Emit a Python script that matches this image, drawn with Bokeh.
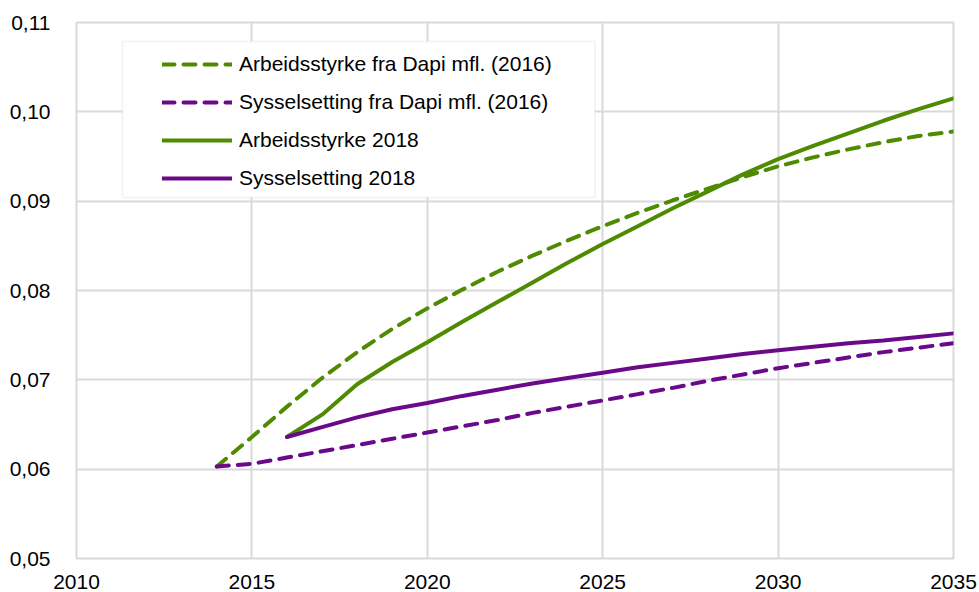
from bokeh.plotting import figure
from bokeh.models import Range1d, FixedTicker, Legend, LegendItem, BoxAnnotation
from bokeh.embed import file_html
from bokeh.resources import INLINE

years_dapi = list(range(2014, 2036))
arb_dapi = [0.0603, 0.0636, 0.0670, 0.0702, 0.0731, 0.0757, 0.0780, 0.0801, 0.0821, 0.0839,
            0.0856, 0.0872, 0.0887, 0.0901, 0.0914, 0.0927, 0.0939, 0.0949, 0.0958, 0.0966,
            0.0973, 0.0978]
sys_dapi = [0.0603, 0.0606, 0.0613, 0.0620, 0.0627, 0.0634, 0.0641, 0.0648, 0.0655, 0.0663,
            0.0670, 0.0677, 0.0684, 0.0691, 0.0699, 0.0706, 0.0713, 0.0719, 0.0725, 0.0731,
            0.0736, 0.0741]
years_2018 = list(range(2016, 2036))
arb_2018 = [0.0636, 0.0661, 0.0695, 0.0720, 0.0742, 0.0765, 0.0787, 0.0809, 0.0831, 0.0852,
            0.0872, 0.0892, 0.0911, 0.0930, 0.0947, 0.0962, 0.0976, 0.0990, 0.1003, 0.1015]
sys_2018 = [0.0636, 0.0647, 0.0658, 0.0667, 0.0674, 0.0682, 0.0689, 0.0696, 0.0702, 0.0708,
            0.0714, 0.0719, 0.0724, 0.0729, 0.0733, 0.0737, 0.0741, 0.0744, 0.0748, 0.0752]

labels = ["Arbeidsstyrke fra Dapi mfl. (2016)", "Sysselsetting fra Dapi mfl. (2016)",
          "Arbeidsstyrke 2018", "Sysselsetting 2018"]
x_ticks = [2010, 2015, 2020, 2025, 2030, 2035]
y_ticks = [0.05, 0.06, 0.07, 0.08, 0.09, 0.10, 0.11]
y_tick_labels = ["0,05", "0,06", "0,07", "0,08", "0,09", "0,10", "0,11"]

GREEN = "#4E8B00"
PURPLE = "#6A0A8A"
GRID = "#D9D9D9"
FONT = "Liberation Sans"
FS = "21px"

p = figure(width=979, height=592, output_backend="svg", toolbar_location=None,
           x_range=Range1d(2010, 2035), y_range=Range1d(0.05, 0.11),
           min_border_left=76, min_border_right=26, min_border_top=22, min_border_bottom=34)
p.background_fill_color = "white"
p.border_fill_color = "white"
p.outline_line_color = GRID
p.outline_line_width = 2

for ax in (p.xaxis[0], p.yaxis[0]):
    ax.axis_line_color = None
    ax.major_tick_line_color = None
    ax.minor_tick_line_color = None
    ax.major_label_text_font = FONT
    ax.major_label_text_font_size = FS
    ax.major_label_text_color = "black"

p.xaxis.ticker = FixedTicker(ticks=x_ticks)
p.yaxis.ticker = FixedTicker(ticks=y_ticks)
p.yaxis.major_label_overrides = {t: l for t, l in zip(y_ticks, y_tick_labels)}
p.yaxis.major_label_standoff = 20
p.xaxis.major_label_standoff = 10

p.xgrid.grid_line_color = GRID
p.ygrid.grid_line_color = GRID
p.xgrid.grid_line_width = 2
p.ygrid.grid_line_width = 2

r1 = p.line(years_dapi, arb_dapi, line_color=GREEN, line_width=4, line_dash="12 9", line_cap="round")
r2 = p.line(years_dapi, sys_dapi, line_color=PURPLE, line_width=4, line_dash="12 9", line_cap="round")
r3 = p.line(years_2018, arb_2018, line_color=GREEN, line_width=4, line_cap="round")
r4 = p.line(years_2018, sys_2018, line_color=PURPLE, line_width=4, line_cap="round")

box = BoxAnnotation(left=2011.31, right=2024.78, top=0.10787, bottom=0.0904,
                    fill_color="white", fill_alpha=1.0, line_color=GRID, line_width=2,
                    level="annotation")
p.add_layout(box)

legend = Legend(items=[LegendItem(label=l, renderers=[r]) for l, r in zip(labels, [r1, r2, r3, r4])],
                location=(86, 368), margin=0, padding=0, spacing=14,
                glyph_width=70, glyph_height=20, label_height=20, label_standoff=7,
                label_text_font=FONT, label_text_font_size=FS, label_text_color="black",
                border_line_alpha=0, background_fill_alpha=0)
p.add_layout(legend, "center")

open("out.html", "w").write(file_html(p, INLINE))
